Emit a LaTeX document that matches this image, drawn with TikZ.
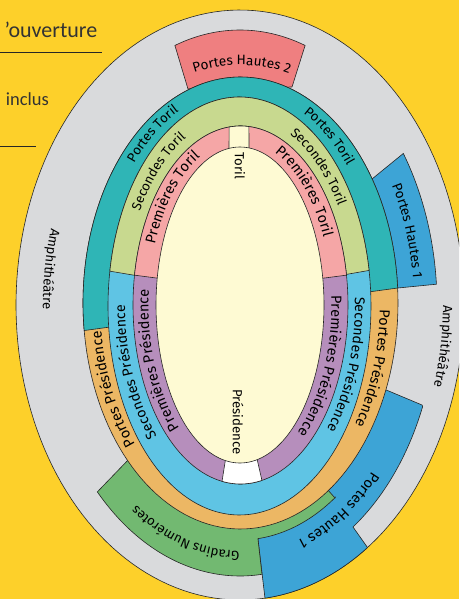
\documentclass[tikz,border=0pt]{standalone}
\usepackage{fontspec}
\setmainfont{Fira Sans}
\newfontfamily\headfont{Carlito}
\usetikzlibrary{decorations.text}
\definecolor{bgy}{HTML}{FDD02A}
\definecolor{grayr}{HTML}{D9DADC}
\definecolor{redr}{HTML}{EF7F80}
\definecolor{tealr}{HTML}{2FB5B6}
\definecolor{limer}{HTML}{C8D98F}
\definecolor{pinkr}{HTML}{F5A6A6}
\definecolor{purpler}{HTML}{B68EBC}
\definecolor{bluer}{HTML}{5FC4E4}
\definecolor{oranger}{HTML}{ECB764}
\definecolor{greenr}{HTML}{72B971}
\definecolor{blueh}{HTML}{3DA4D6}
\definecolor{creamr}{HTML}{FEFAD3}
\newcommand{\lbl}{\fontsize{13.2}{15}\selectfont}
\newcommand{\rtext}[8][13.2]{%
  \pgfmathsetmacro{\aA}{#6-#7}\pgfmathsetmacro{\aB}{#6+#7}%
  \path[decorate,decoration={text along path,text align=center,text={|\fontsize{#1}{15}\selectfont|#8}}]
    plot[domain=\aA:\aB,samples=90] ({#2+#4*cos(\x)},{#3+#5*sin(\x)});}
\newcommand{\rtextrev}[7]{%
  \pgfmathsetmacro{\aA}{#5+#6}\pgfmathsetmacro{\aB}{#5-#6}%
  \path[decorate,decoration={text along path,text align=center,text={|\lbl|#7}}]
    plot[domain=\aA:\aB,samples=90] ({#1+#3*cos(\x)},{#2+#4*sin(\x)});}
\tikzset{seg/.style={draw=black!85,line width=0.6pt,line join=miter},samples=70,
  headtxt/.style={font=\headfont\fontsize{22}{24}\selectfont,text=black!80,inner sep=0pt},
  subtxt/.style={font=\headfont\fontsize{18.5}{20}\selectfont,text=black!80,inner sep=0pt},
  rule/.style={draw=black!85,line width=1pt},
  straight/.style={font=\lbl,rotate=-90,inner sep=0pt}}
\begin{document}
\begin{tikzpicture}[x=1pt,y=-1pt]
\useasboundingbox (0,0) rectangle (459,599);
\clip (0,0) rectangle (459,599);
\fill[bgy] (0,0) rectangle (459,599);
% page text
\node[headtxt,anchor=base east] (head) at (97.5,38) {’ouverture};
\coordinate (r1a) at (0,52.5); \coordinate (r1b) at (102,52.5);
\draw[rule] (r1a) -- (r1b);
\node[subtxt,anchor=base east] (incl) at (49,106) {inclus};
\coordinate (r2a) at (0,146); \coordinate (r2b) at (36,146);
\draw[rule] (r2a) -- (r2b);
% amphitheatre
\draw[seg,fill=grayr] plot[domain=0:360,samples=180] ({240+224*cos(\x)},{305+295*sin(\x)}) -- cycle;
% portes hautes 2
\draw[seg,fill=redr] plot[domain=250.7:289.3] ({240+197*cos(\x)},{305+275*sin(\x)}) -- (292,87) -- (188,89) -- cycle;
% portes hautes 1 upper
\draw[seg,fill=blueh] (372,179) -- plot[domain=326:355.6] ({240+197*cos(\x)},{305+271*sin(\x)}) -- (398,288) -- (375,230) -- cycle;
% portes hautes 1 lower
\draw[seg,fill=blueh] (372,384) -- (422,405) -- plot[domain=22:55] ({240+197*cos(\x)},{305+271*sin(\x)}) -- plot[domain=55.3:83.6] ({240+224*cos(\x)},{305+295*sin(\x)}) -- (258,539) -- (300,470) -- cycle;
% gradins
\draw[seg,fill=greenr] plot[domain=83.6:136.4] ({240+197*cos(\x)},{305+271*sin(\x)}) -- (130,458) -- (327,489) -- (335,498) -- plot[domain=55:83.8] ({240+166*cos(\x)},{305+235*sin(\x)}) -- cycle;
% portes ring
\draw[seg,fill=oranger] plot[domain=0:360,samples=160] ({240.5+157.5*cos(\x)},{303+226*sin(\x)}) -- cycle;
\draw[seg,fill=tealr] plot[domain=173:356.2,samples=120] ({240.5+157.5*cos(\x)},{303+226*sin(\x)}) -- cycle;
% secondes ring
\draw[seg,fill=bluer] plot[domain=0:360,samples=160] ({239.5+131.5*cos(\x)},{306+209*sin(\x)}) -- cycle;
\draw[seg,fill=limer] plot[domain=189.6:350.2,samples=120] ({239.5+131.5*cos(\x)},{306+209*sin(\x)}) -- (240,293) -- cycle;
% premieres ring
\draw[seg,fill=purpler] plot[domain=0:360,samples=160] ({240.5+107.5*cos(\x)},{305+179*sin(\x)}) -- cycle;
\draw[seg,fill=pinkr] plot[domain=189.6:350.4,samples=120] ({240.5+107.5*cos(\x)},{305+179*sin(\x)}) -- (240,289) -- cycle;
% toril & presidence gates
\draw[seg,fill=creamr] plot[domain=263.9:274.5,samples=12] ({240.5+107.5*cos(\x)},{305+179*sin(\x)}) -- (249,160) -- (229,160) -- cycle;
\draw[seg,fill=white] plot[domain=78.5:99.9,samples=16] ({240.5+107.5*cos(\x)},{305+179*sin(\x)}) -- (227,450) -- (255,450) -- cycle;
% arena
\draw[seg,fill=creamr] plot[domain=0:360,samples=160] ({240+84*cos(\x)},{305+158*sin(\x)}) -- cycle;
% labels
\node[straight] (tor) at (240,166) {Toril};
\node[straight] (pres) at (238,422) {Présidence};
\rtext[14.5]{240}{305}{91.5}{164.5}{228}{42}{Premières Toril}
\rtext[14.5]{240}{305}{91.5}{164.5}{309}{42}{Premières Toril}
\rtext{240}{305}{115}{189.5}{231}{42}{Secondes Toril}
\rtext{240}{305}{115}{189.5}{307}{42}{Secondes Toril}
\rtext{240}{303}{140}{213}{236}{35}{Portes Toril}
\rtext{240}{303}{140}{213}{305}{35}{Portes Toril}
\rtext[14.6]{240}{305}{91.5}{164.5}{33}{70}{Premières Présidence}
\rtext[14.6]{240}{305}{91.5}{164.5}{150}{70}{Premières Présidence}
\rtext[14.2]{240}{305}{115}{189.5}{24}{55}{Secondes Présidence}
\rtext[14.2]{240}{305}{115}{189.5}{153}{55}{Secondes Présidence}
\rtext[14.5]{240}{303}{140}{213}{21}{45}{Portes Présidence}
\rtext[14.5]{240}{303}{140}{213}{152}{45}{Portes Présidence}
\rtext{240}{305}{178}{246}{106}{40}{Gradins Numérotes}
\rtext[14.5]{240}{305}{177}{249}{59}{36}{Portes Hautes 1}
\rtext[13.6]{240}{305}{174}{246}{341}{34}{Portes Hautes 1}
\rtext[13.6]{240}{305}{185}{240}{270.5}{35}{Portes Hautes 2}
\rtextrev{240}{305}{197}{271}{188}{25}{Amphithéâtre}
\rtext{240}{305}{203}{275}{9}{25}{Amphithéâtre}
\end{tikzpicture}
\end{document}
